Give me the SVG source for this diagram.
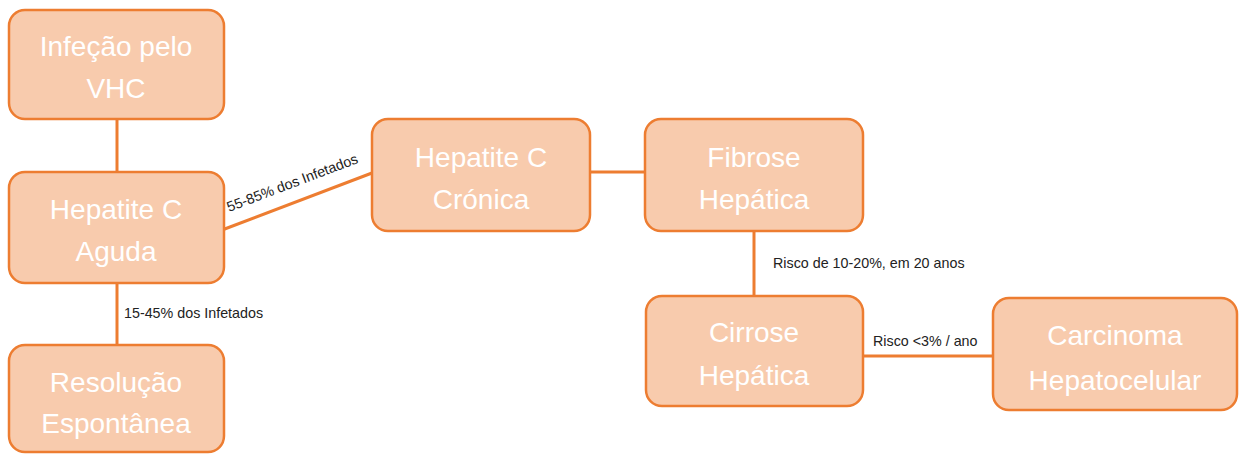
<svg xmlns="http://www.w3.org/2000/svg" width="1239" height="455" viewBox="0 0 1239 455">
<style>
.box{fill:#F8CBAD;stroke:#ED7D31;stroke-width:2.5}
.t{font-family:"Liberation Sans",Arial,sans-serif;font-size:28px;fill:#ffffff;text-anchor:middle}
.c{stroke:#ED7D31;stroke-width:3;fill:none}
.l{font-family:"Liberation Sans",Arial,sans-serif;font-size:14.3px;fill:#222222}
</style>
<rect width="1239" height="455" fill="#ffffff"/>
<g id="connectors">
<line class="c" x1="117" y1="119" x2="117" y2="172"/>
<line class="c" x1="117" y1="283" x2="117" y2="345"/>
<line class="c" x1="222" y1="230" x2="372" y2="173"/>
<line class="c" x1="590" y1="172" x2="645" y2="172"/>
<line class="c" x1="754" y1="231" x2="754" y2="296"/>
<line class="c" x1="863" y1="356" x2="993" y2="356"/>
<text class="l" x="124" y="318">15-45% dos Infetados</text>
<text class="l" x="229" y="212" transform="rotate(-20.8 229 212)">55-85% dos Infetados</text>
<text class="l" x="773" y="268">Risco de 10-20%, em 20 anos</text>
<text class="l" x="873" y="346">Risco &lt;3% / ano</text>
</g>
<g id="infecao">
<rect class="box" x="9" y="10" width="215" height="109" rx="16"/>
<text class="t" x="116" y="56">Infeção pelo</text>
<text class="t" x="116" y="98">VHC</text>
</g>
<g id="aguda">
<rect class="box" x="9" y="172" width="215" height="111" rx="16"/>
<text class="t" x="116" y="219">Hepatite C</text>
<text class="t" x="116" y="261">Aguda</text>
</g>
<g id="resolucao">
<rect class="box" x="9" y="345" width="215" height="107" rx="16"/>
<text class="t" x="116" y="392">Resolução</text>
<text class="t" x="116" y="433">Espontânea</text>
</g>
<g id="cronica">
<rect class="box" x="372" y="119" width="218" height="112" rx="16"/>
<text class="t" x="481" y="167">Hepatite C</text>
<text class="t" x="481" y="209">Crónica</text>
</g>
<g id="fibrose">
<rect class="box" x="645" y="119" width="218" height="112" rx="16"/>
<text class="t" x="754" y="167">Fibrose</text>
<text class="t" x="754" y="209">Hepática</text>
</g>
<g id="cirrose">
<rect class="box" x="646" y="296" width="217" height="110" rx="16"/>
<text class="t" x="754" y="342">Cirrose</text>
<text class="t" x="754" y="385">Hepática</text>
</g>
<g id="carcinoma">
<rect class="box" x="993" y="298" width="244" height="112" rx="16"/>
<text class="t" x="1115" y="345">Carcinoma</text>
<text class="t" x="1115" y="390">Hepatocelular</text>
</g>
</svg>
